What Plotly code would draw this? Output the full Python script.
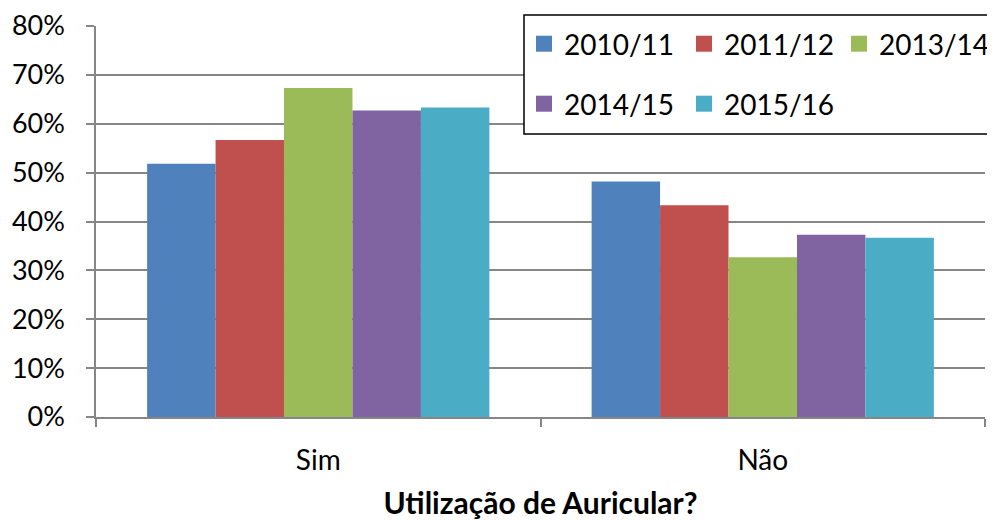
import plotly.graph_objects as go

categories = ["Sim", "Não"]
series_names = ["2010/11", "2011/12", "2013/14", "2014/15", "2015/16"]
v_2010_11 = [0.518, 0.482]
v_2011_12 = [0.567, 0.433]
v_2013_14 = [0.673, 0.327]
v_2014_15 = [0.627, 0.373]
v_2015_16 = [0.633, 0.367]
values = [v_2010_11, v_2011_12, v_2013_14, v_2014_15, v_2015_16]
colors = ["#4F81BD", "#C0504D", "#9BBB59", "#8064A2", "#4BACC6"]
y_ticks = [0, 0.1, 0.2, 0.3, 0.4, 0.5, 0.6, 0.7, 0.8]
x_title = "Utilização de Auricular?"

FONT = "Lato"
OFF = 8  # page body margin
W, H = 995, 520
L, R, T, B = 88, 18, 18, 111
pw, ph = W - L - R, H - T - B


def px_x(p):  # page pixel -> paper fraction
    return (p - OFF - L) / pw


def px_y(p):
    return (H - B - (p - OFF)) / ph


# legend slot positions (page pixels of marker centres)
legend_slots = [(547, 44), (707, 44), (862, 44), (547, 104), (707, 104)]

fig = go.Figure()
for name, vals, c in zip(series_names, values, colors):
    fig.add_trace(go.Bar(x=categories, y=vals, name=name,
                         marker=dict(color=c, line=dict(width=0)), showlegend=False))

legend_layouts = {}
for i, (name, c) in enumerate(zip(series_names, colors)):
    key = "legend" if i == 0 else "legend%d" % (i + 1)
    fig.add_trace(go.Scatter(x=[None], y=[None], mode="markers", name=name,
                             marker=dict(symbol="square", size=16, color=c),
                             legend=key))
    mx, my = legend_slots[i]
    legend_layouts[key] = dict(orientation="h", xanchor="left", yanchor="middle",
                               x=px_x(mx - 23), y=px_y(my),
                               bgcolor="rgba(0,0,0,0)", borderwidth=0,
                               font=dict(family=FONT, size=28, color="black"),
                               itemclick=False, itemdoubleclick=False)

fig.update_layout(
    width=W, height=H,
    margin=dict(l=L, r=R, t=T, b=B, autoexpand=False),
    paper_bgcolor="white", plot_bgcolor="white",
    barmode="group", bargap=0.23, bargroupgap=0,
    font=dict(family=FONT, size=28, color="black"),
    xaxis=dict(showline=True, linecolor="#868686", linewidth=1.5,
               ticks="outside", tickson="boundaries", ticklen=8, tickcolor="#868686",
               tickwidth=1.5, ticklabelstandoff=18,
               tickfont=dict(family=FONT, size=28, color="black"),
               title=dict(text="<b>" + x_title + "</b>", standoff=18,
                          font=dict(family=FONT, size=30, color="black"))),
    yaxis=dict(range=[0, 0.8], tickvals=y_ticks, tickformat=".0%",
               showgrid=True, gridcolor="#868686", gridwidth=1.5,
               showline=True, linecolor="#868686", linewidth=1.5, zeroline=False,
               ticks="outside", ticklen=8, tickcolor="#868686", tickwidth=1.5,
               ticklabelstandoff=16, ticklabeloverflow="allow",
               tickfont=dict(family=FONT, size=27, color="black")),
    shapes=[dict(type="rect", xref="paper", yref="paper",
                 x0=px_x(524), x1=px_x(994), y0=px_y(134), y1=px_y(15),
                 line=dict(color="black", width=1.5), fillcolor="white", layer="above")],
    **legend_layouts,
)

fig.write_html("out.html")
